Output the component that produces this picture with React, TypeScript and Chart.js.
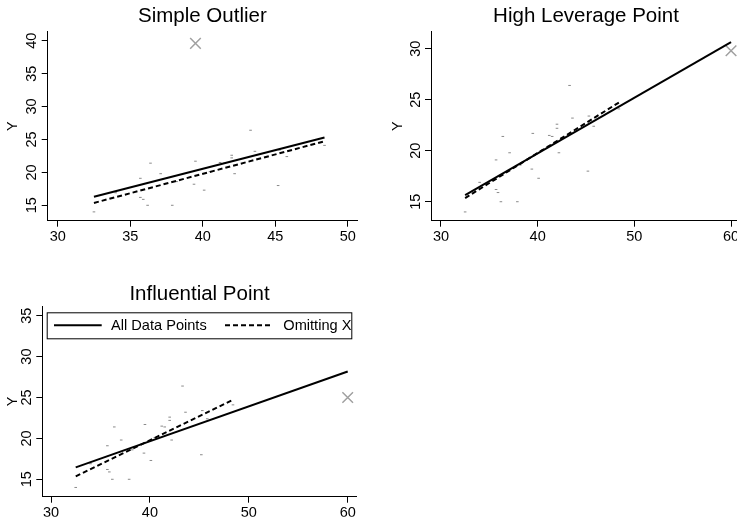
import React, { useEffect, useRef } from 'react';
import { Chart, registerables } from 'chart.js';

Chart.register(...registerables);

// ---------- data ----------
const baseX = [32.5, 34.0, 35.7, 35.7, 35.9, 36.2, 36.4, 37.1, 37.9, 38.2, 39.4, 39.5, 40.1, 40.5, 41.2, 41.5, 42.0, 42.0, 42.2, 43.3, 43.6, 45.2, 45.3, 45.8, 48.4];
const baseY = [14.0, 16.9, 19.1, 16.2, 15.9, 15.0, 21.4, 19.8, 15.0, 18.6, 18.2, 21.7, 17.3, 20.1, 21.5, 21.4, 22.6, 22.2, 19.8, 26.4, 23.2, 18.0, 23.4, 22.4, 24.1];

const panelTitles = ['Simple Outlier', 'High Leverage Point', 'Influential Point'];
const outlierX = [39.5, 60, 60];
const outlierY = [39.6, 29.8, 25.0];

const xTicks = [[30, 35, 40, 45, 50], [30, 40, 50, 60], [30, 40, 50, 60]];
const yTicks = [[15, 20, 25, 30, 35, 40], [15, 20, 25, 30], [15, 20, 25, 30, 35]];
const xMin = [29.31, 28.97, 29.12];
const xMax = [50.64, 61.03, 60.91];
const yMin = [12.66, 13.14, 12.87];
const yMax = [41.37, 31.67, 36.19];

const lineLabels = ['All Data Points', 'Omitting X'];
const axisTitle = 'Y';

// ---------- layout / style ----------
const CW = 760;
const CH = 521;
const YW = 20;
const XH = 20;
const areas = [
  { l: 47.7, t: 31.7, r: 357, b: 220.7 },
  { l: 431, t: 31.7, r: 741, b: 220.7 },
  { l: 42.3, t: 306, r: 356.7, b: 496.7 },
];
const yLabelOffset = [31, 29.3, 25.6];
const titleOffset = [-10.2, -10.2, -6.5];
const FONT = '"Liberation Sans", Arial, Helvetica, sans-serif';

Chart.defaults.font.family = FONT;

function fit(xs: number[], ys: number[]) {
  const n = xs.length;
  const mx = xs.reduce((a, b) => a + b, 0) / n;
  const my = ys.reduce((a, b) => a + b, 0) / n;
  let sxy = 0;
  let sxx = 0;
  for (let i = 0; i < n; i++) {
    sxy += (xs[i] - mx) * (ys[i] - my);
    sxx += (xs[i] - mx) * (xs[i] - mx);
  }
  const b = sxy / sxx;
  const a = my - b * mx;
  const x0 = Math.min(...xs);
  const x1 = Math.max(...xs);
  return [
    { x: x0, y: a + b * x0 },
    { x: x1, y: a + b * x1 },
  ];
}

const decor = {
  id: 'decor',
  afterDraw(chart: any, _args: any, o: any) {
    const ctx = chart.ctx;
    const area = chart.chartArea;
    const ys = chart.scales.y;
    ctx.save();
    ctx.fillStyle = '#000';
    // rotated y tick labels
    ctx.font = `14.5px ${FONT}`;
    ctx.textAlign = 'center';
    ctx.textBaseline = 'alphabetic';
    ys.ticks.forEach((t: any) => {
      const py = ys.getPixelForValue(t.value);
      ctx.save();
      ctx.translate(area.left - 11.5, py);
      ctx.rotate(-Math.PI / 2);
      ctx.fillText(String(t.value), 0, 0);
      ctx.restore();
    });
    // axis title
    ctx.save();
    ctx.translate(area.left - o.yLabelOffset, (area.top + area.bottom) / 2);
    ctx.rotate(-Math.PI / 2);
    ctx.fillText(o.axisTitle, 0, 0);
    ctx.restore();
    // panel title
    ctx.font = `20.5px ${FONT}`;
    ctx.fillText(o.title, (area.left + area.right) / 2, area.top + o.titleOffset);
    // legend
    if (o.legend) {
      const L = area.left + 4.4;
      const T = area.top + 6.3;
      const W = 305.6;
      const H = 27;
      ctx.fillStyle = '#fff';
      ctx.fillRect(L, T, W, H);
      ctx.strokeStyle = '#000';
      ctx.lineWidth = 1;
      ctx.strokeRect(L + 0.5, T + 0.5, W - 1, H - 1);
      ctx.save();
      ctx.beginPath();
      ctx.rect(L, T, W - 1, H);
      ctx.clip();
      const ly = T + 13;
      const ds = chart.data.datasets;
      ctx.lineWidth = 2;
      ctx.setLineDash([]);
      ctx.beginPath();
      ctx.moveTo(L + 7.3, ly);
      ctx.lineTo(L + 55, ly);
      ctx.stroke();
      ctx.setLineDash([5, 3]);
      ctx.beginPath();
      ctx.moveTo(L + 178.3, ly);
      ctx.lineTo(L + 225, ly);
      ctx.stroke();
      ctx.setLineDash([]);
      ctx.fillStyle = '#000';
      ctx.font = `14.6px ${FONT}`;
      ctx.textAlign = 'left';
      ctx.fillText(ds[0].label, L + 64.3, T + 17.3);
      ctx.fillText(ds[1].label, L + 236.6, T + 17.3);
      ctx.restore();
    }
    ctx.restore();
  },
};

function Panel({ idx }: { idx: number }) {
  const ref = useRef<HTMLCanvasElement>(null);
  useEffect(() => {
    const A = areas[idx];
    const allX = [...baseX, outlierX[idx]];
    const allY = [...baseY, outlierY[idx]];
    const chart = new Chart(ref.current as HTMLCanvasElement, {
      type: 'scatter',
      data: {
        datasets: [
          {
            label: lineLabels[0],
            data: fit(allX, allY),
            showLine: true,
            borderColor: '#000',
            borderWidth: 2,
            pointRadius: 0,
          },
          {
            label: lineLabels[1],
            data: fit(baseX, baseY),
            showLine: true,
            borderColor: '#000',
            borderWidth: 2,
            borderDash: [5, 3],
            pointRadius: 0,
          },
          {
            label: 'X',
            data: [{ x: outlierX[idx], y: outlierY[idx] }],
            pointStyle: 'crossRot',
            pointRadius: 7.5,
            pointBorderColor: '#a0a0a0',
            pointBorderWidth: 1.5,
            pointBackgroundColor: '#a0a0a0',
          },
          {
            label: 'data',
            data: baseX.map((x, i) => ({ x, y: baseY[i] })),
            pointStyle: 'line',
            pointRadius: 1.3,
            pointBorderColor: '#8a8a8a',
            pointBorderWidth: 1,
            pointBackgroundColor: '#8a8a8a',
          },
        ],
      } as any,
      options: {
        animation: false,
        responsive: false,
        devicePixelRatio: 1,
        layout: {
          padding: { left: A.l - YW, top: A.t, right: CW - A.r, bottom: CH - A.b - XH },
        },
        plugins: {
          legend: { display: false },
          tooltip: { enabled: false },
          title: { display: false },
          decor: {
            title: panelTitles[idx],
            titleOffset: titleOffset[idx],
            yLabelOffset: yLabelOffset[idx],
            axisTitle,
            legend: idx === 2,
          },
        } as any,
        scales: {
          x: {
            type: 'linear',
            bounds: 'data',
            min: xMin[idx],
            max: xMax[idx],
            afterBuildTicks: (s: any) => {
              s.ticks = xTicks[idx].map((v) => ({ value: v }));
            },
            afterFit: (s: any) => {
              s.height = XH;
            },
            ticks: {
              color: '#000',
              font: { family: FONT, size: 14.5 },
              padding: 2,
              autoSkip: false,
              maxRotation: 0,
              callback: (v: any) => String(v),
            },
            grid: {
              display: true,
              drawOnChartArea: false,
              drawTicks: true,
              tickLength: 6,
              color: '#000',
              tickColor: '#000',
              tickWidth: 1,
            },
            border: { display: true, color: '#000', width: 1 },
          },
          y: {
            type: 'linear',
            bounds: 'data',
            min: yMin[idx],
            max: yMax[idx],
            afterBuildTicks: (s: any) => {
              s.ticks = yTicks[idx].map((v) => ({ value: v }));
            },
            afterFit: (s: any) => {
              s.width = YW;
            },
            ticks: { display: false },
            grid: {
              display: true,
              drawOnChartArea: false,
              drawTicks: true,
              tickLength: 6,
              color: '#000',
              tickColor: '#000',
              tickWidth: 1,
            },
            border: { display: true, color: '#000', width: 1 },
          },
        } as any,
      },
      plugins: [decor as any],
    });
    return () => chart.destroy();
  }, [idx]);
  return (
    <canvas
      ref={ref}
      width={CW}
      height={CH}
      style={{ position: 'absolute', left: 0, top: 0, width: CW, height: CH }}
    />
  );
}

export default function App() {
  return (
    <div
      style={{
        position: 'fixed',
        left: 0,
        top: 0,
        width: 737,
        height: 521,
        overflow: 'hidden',
        background: '#fff',
      }}
    >
      <Panel idx={0} />
      <Panel idx={1} />
      <Panel idx={2} />
    </div>
  );
}
